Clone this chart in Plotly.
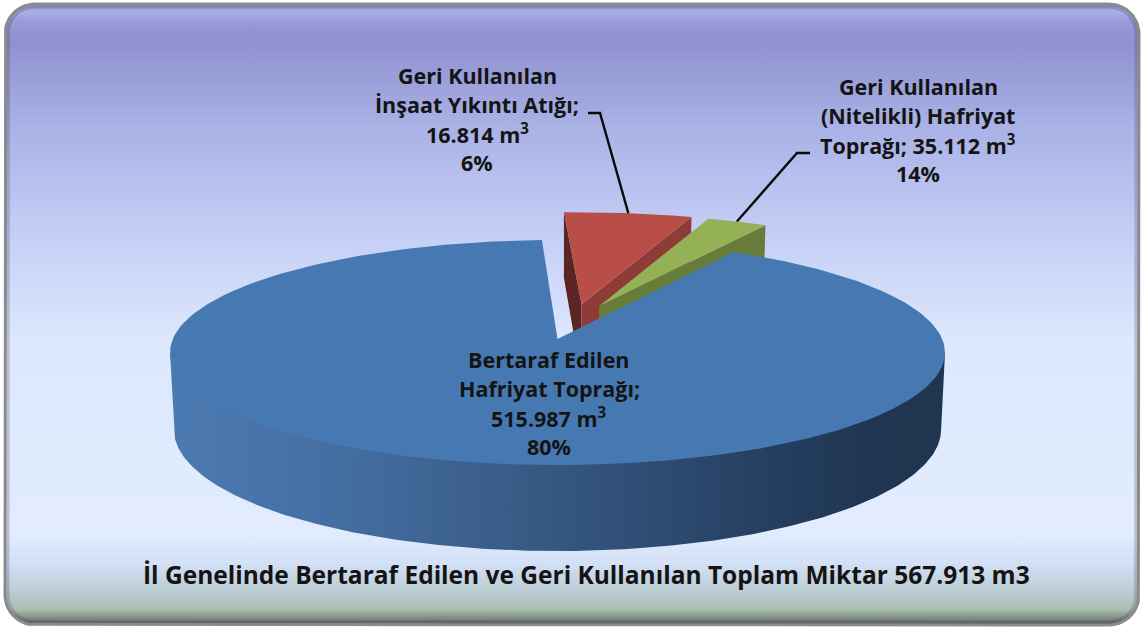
import numpy as np
import plotly.graph_objects as go

# ---- data ----
slice_names = ["Red slice", "Green slice", "Blue slice"]
slice_values = [35.112, 16.814, 515.987]   # wedge sizes as actually drawn in the reference
slice_explode = [0.331, 0.327, 0.0]
slice_explode_dir = [11.3, 20.0, 0.0]
red_label = ["Geri Kullanılan", "İnşaat Yıkıntı Atığı;", "16.814 m<sup>3</sup>", "6%"]
green_label = ["Geri Kullanılan", "(Nitelikli) Hafriyat", "Toprağı; 35.112 m<sup>3</sup>", "14%"]
blue_label = ["Bertaraf Edilen", "Hafriyat Toprağı;", "515.987 m<sup>3</sup>", "80%"]
footer = "İl Genelinde Bertaraf Edilen ve Geri Kullanılan Toplam Miktar 567.913 m3"

# ---- view geometry ----
W, H = 1143, 630
CX, CY, RX, RY, K, DEPTH, TAPER = 557.5, 339, 384.7, 110.9, 0.12, 75.7, 0.01
FIRST_ANGLE = -2.6
FONT = "Open Sans"


def project(u, v, z=0.0):
    s = 1 / (1 - K * v)
    return CX + RX * u * s * (1 - TAPER * z), CY + RY * v * s + DEPTH * z * s


def disc(theta, e=0.0, mid=0.0, z=0.0, r=1.0):
    t = np.radians(theta)
    m = np.radians(mid)
    return project(e * np.sin(m) + r * np.sin(t), -e * np.cos(m) - r * np.cos(t), z)


def poly(xs, ys, color=None, **kw):
    tr = dict(x=list(xs), y=list(ys), mode="lines", fill="toself", line=dict(width=0),
              hoverinfo="skip", showlegend=False)
    if color:
        tr["fillcolor"] = color
    tr.update(kw)
    fig.add_trace(go.Scatter(**tr))


def rounded(x0, y0, x1, y1, r):
    xs, ys = [], []
    for cx, cy, a0 in [(x1 - r, y0 + r, -90), (x1 - r, y1 - r, 0), (x0 + r, y1 - r, 90), (x0 + r, y0 + r, 180)]:
        a = np.radians(np.linspace(a0, a0 + 90, 16))
        xs += list(cx + r * np.cos(a))
        ys += list(cy + r * np.sin(a))
    return xs + xs[:1], ys + ys[:1]


fig = go.Figure()

# ---- panel ----
px, py = rounded(5, 4, 1139, 625, 30)
poly(px, py, line=dict(width=3, color="#8b8b8b"),
     fillgradient=dict(type="vertical", start=4, stop=625, colorscale=[
         [0.00, "#8f93c8"], [0.012, "#aab1e6"], [0.03, "#9699d6"], [0.06, "#8f91cf"],
         [0.20, "#aab2e6"], [0.38, "#c6d0f6"], [0.55, "#dee8fd"], [0.85, "#e2ecfe"],
         [0.90, "#d3e0f6"], [0.945, "#bccdd4"], [0.975, "#a9bdb0"], [0.99, "#7d8a80"], [1.0, "#5e6660"]]))
ix, iy = rounded(8, 7, 1136, 622, 27)
fig.add_trace(go.Scatter(x=ix, y=iy, mode="lines", line=dict(width=3, color="rgba(50,55,90,0.22)"),
                         hoverinfo="skip", showlegend=False))

# ---- wedges ----
total = sum(slice_values)
edges = FIRST_ANGLE + np.concatenate([[0], np.cumsum(slice_values)]) / total * 360
mids = (edges[:-1] + edges[1:]) / 2


def wedge_edges(i):
    e, m = slice_explode[i], slice_explode_dir[i]
    a, b = edges[i], edges[i + 1]
    apex = project(e * np.sin(np.radians(m)), -e * np.cos(np.radians(m)))
    apex_b = project(e * np.sin(np.radians(m)), -e * np.cos(np.radians(m)), 1)
    return e, m, a, b, apex, apex_b


def wedge_top(i, color):
    e, m, a, b, apex, _ = wedge_edges(i)
    ax, ay = disc(np.linspace(a, b, 240), e, m)
    poly([apex[0], *ax, apex[0]], [apex[1], *ay, apex[1]], color)


def radial_wall(i, angle, color):
    e, m, _, _, apex, apex_b = wedge_edges(i)
    o, ob = disc(angle, e, m), disc(angle, e, m, 1)
    poly([apex[0], o[0], ob[0], apex_b[0], apex[0]], [apex[1], o[1], ob[1], apex_b[1], apex[1]], color)


# red
radial_wall(0, edges[0], "#5a2522")
radial_wall(0, edges[1], "#8e3c38")
wedge_top(0, "#b94d48")
# green
radial_wall(1, edges[2], "#667c38")
wedge_top(1, "#95b155")
# blue outer wall (its upper edge runs under the top face, so no seam shows)
arc = np.linspace(97, 263, 240)
ox, oy = disc(np.array([97.0, 263.0]))
tx, ty = disc(arc, r=0.97)
bx, by = disc(arc[::-1], z=1)
poly(np.r_[ox[0], tx, ox[1], bx, ox[0]], np.r_[oy[0], ty, oy[1], by, oy[0]],
     fillgradient=dict(type="horizontal", colorscale=[
         [0.00, "#4b7ab2"], [0.20, "#456fa3"], [0.40, "#3b5f8c"], [0.60, "#2f4e75"],
         [0.80, "#233d5d"], [0.93, "#1f3550"], [1.00, "#1f3550"]]))
wedge_top(2, "#4679b1")

# ---- leader lines ----
rx, ry = disc(edges[0] + 0.5 * (edges[1] - edges[0]), slice_explode[0], slice_explode_dir[0])
gx, gy = disc(mids[1], slice_explode[1], slice_explode_dir[1])
for xs, ys in [([588, 600, rx], [113, 113, ry]), ([810, 797, gx], [153, 153, gy])]:
    fig.add_trace(go.Scatter(x=xs, y=ys, mode="lines", line=dict(color="#0a0a0a", width=2.4),
                             hoverinfo="skip", showlegend=False))


# ---- text ----
def put(lines, xc, ys, size=21.5):
    for t, y in zip(lines, ys):
        fig.add_annotation(x=xc, y=y - 1.5, text=f"<b>{t}</b>", showarrow=False, xanchor="center", yanchor="middle",
                           font=dict(family=FONT, size=size, color="#141414"))


put(red_label, 477, [77, 106, 135, 164])
put(green_label, 918, [88, 117, 146, 175])
put(blue_label, 549, [361, 390, 419, 448])
put([footer], 586, [576], size=24.5)

fig.update_layout(
    width=W, height=H, margin=dict(l=0, r=0, t=0, b=0), paper_bgcolor="white", plot_bgcolor="rgba(0,0,0,0)",
    xaxis=dict(range=[0, W], visible=False, fixedrange=True),
    yaxis=dict(range=[H, 0], visible=False, fixedrange=True),
    showlegend=False,
)
fig.write_html("out.html", config=dict(displayModeBar=False),
               post_script="document.body.style.margin='0';document.body.style.overflow='hidden';")
